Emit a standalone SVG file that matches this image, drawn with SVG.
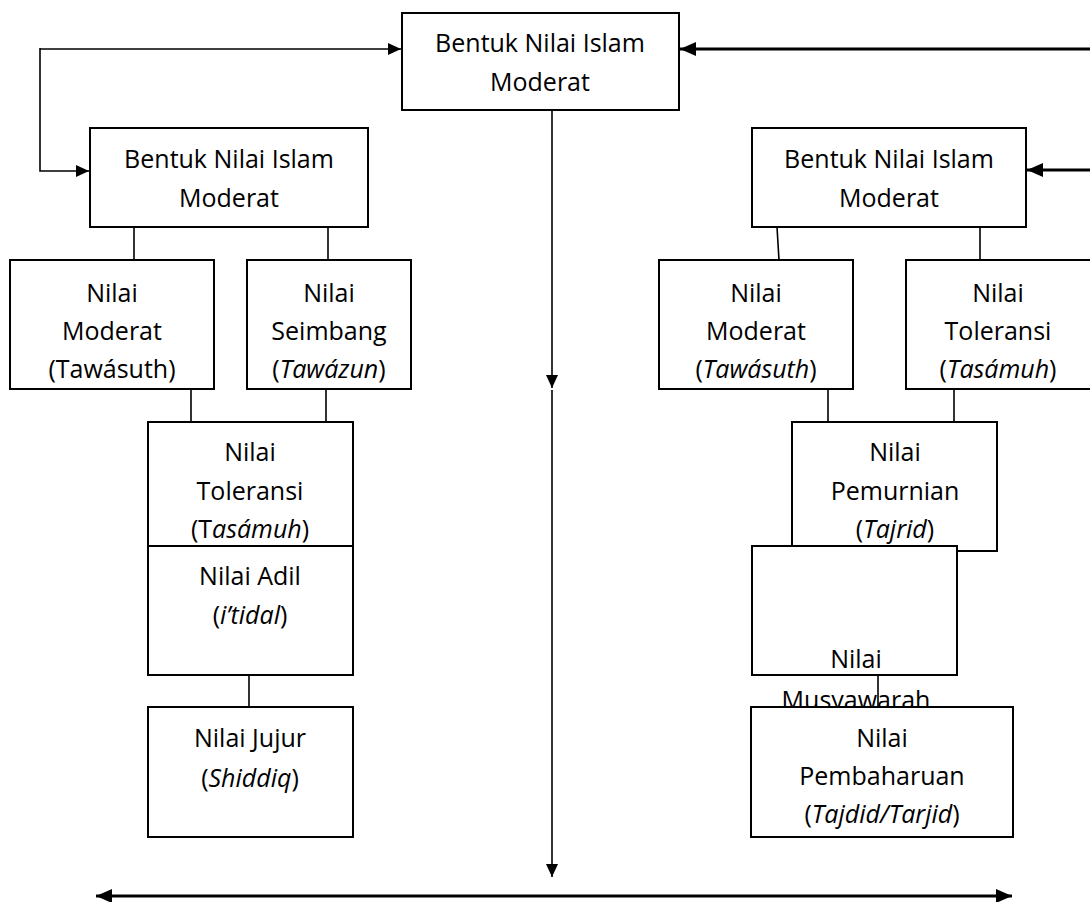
<svg xmlns="http://www.w3.org/2000/svg" width="1090" height="902" viewBox="0 0 1090 902">
<style>
.box{fill:#fff;stroke:#000;stroke-width:2}
.t{font-family:"Open Sans","Noto Sans",sans-serif;font-size:25px;fill:#000;text-anchor:middle}
.i{font-style:italic}
.c{fill:none;stroke:#000;stroke-width:1.6}
.k{fill:none;stroke:#000;stroke-width:3.2}
</style>
<defs>
<marker id="a" markerUnits="userSpaceOnUse" markerWidth="13" markerHeight="12" refX="13" refY="6" orient="auto"><path d="M0,0 L13,6 L0,12 z" fill="#000"/></marker>
<marker id="b" markerUnits="userSpaceOnUse" markerWidth="16" markerHeight="14" refX="16" refY="7" orient="auto-start-reverse"><path d="M0,0 L16,7 L0,14 z" fill="#000"/></marker>
</defs>
<rect width="1090" height="902" fill="#fff"/>
<g id="n-top"><rect class="box" x="402" y="13" width="277" height="97"/><text class="t" x="540" y="52">Bentuk Nilai Islam</text><text class="t" x="540" y="91">Moderat</text></g>
<g id="n-l2"><rect class="box" x="90" y="128" width="278" height="99"/><text class="t" x="229" y="168">Bentuk Nilai Islam</text><text class="t" x="229" y="207">Moderat</text></g>
<g id="n-r2"><rect class="box" x="752" y="128" width="274" height="99"/><text class="t" x="889" y="168">Bentuk Nilai Islam</text><text class="t" x="889" y="207">Moderat</text></g>
<g id="n-lmod"><rect class="box" x="10" y="260" width="204" height="129"/><text class="t" x="112" y="302">Nilai</text><text class="t" x="112" y="340">Moderat</text><text class="t" x="112" y="378">(Tawásuth)</text></g>
<g id="n-lseim"><rect class="box" x="247" y="260" width="164" height="129"/><text class="t" x="329" y="302">Nilai</text><text class="t" x="329" y="340">Seimbang</text><text class="t" x="329" y="378">(<tspan class="i">Tawázun</tspan>)</text></g>
<g id="n-rmod"><rect class="box" x="659" y="260" width="194" height="129"/><text class="t" x="756" y="302">Nilai</text><text class="t" x="756" y="340">Moderat</text><text class="t" x="756" y="378">(<tspan class="i">Tawásuth</tspan>)</text></g>
<g id="n-rtol"><rect class="box" x="906" y="260" width="190" height="129"/><text class="t" x="998" y="302">Nilai</text><text class="t" x="998" y="340">Toleransi</text><text class="t" x="998" y="378">(<tspan class="i">Tasámuh</tspan>)</text></g>
<g id="n-ltol"><rect class="box" x="148" y="422" width="205" height="124"/><text class="t" x="250" y="461">Nilai</text><text class="t" x="250" y="500">Toleransi</text><text class="t" x="250" y="538">(T<tspan class="i">asámuh</tspan>)</text></g>
<g id="n-adil"><rect class="box" x="148" y="546" width="205" height="129"/><text class="t" x="250" y="585">Nilai Adil</text><text class="t" x="250" y="624">(<tspan class="i">i’tidal</tspan>)</text></g>
<g id="n-jujur"><rect class="box" x="148" y="707" width="205" height="130"/><text class="t" x="250" y="747">Nilai Jujur</text><text class="t" x="250" y="787">(<tspan class="i">Shiddiq</tspan>)</text></g>
<g id="n-pemurnian"><rect class="box" x="792" y="422" width="205" height="129"/><text class="t" x="895" y="461">Nilai</text><text class="t" x="895" y="500">Pemurnian</text><text class="t" x="895" y="538">(<tspan class="i">Tajrid</tspan>)</text></g>
<g id="n-musyawarah"><rect class="box" x="752" y="546" width="205" height="129"/><text class="t" x="856" y="668">Nilai</text><text class="t" x="856" y="709">Musyawarah</text></g>
<g id="n-pembaharuan"><rect class="box" x="751" y="707" width="262" height="130"/><text class="t" x="882" y="747">Nilai</text><text class="t" x="882" y="785">Pembaharuan</text><text class="t" x="882" y="823">(<tspan class="i">Tajdid/Tarjid</tspan>)</text></g>
<g id="connectors">
<path class="c" d="M40,49 H401" marker-end="url(#a)"/>
<path class="c" d="M40,48 V171 H89" marker-end="url(#a)"/>
<path class="k" d="M1090,49 H680" marker-end="url(#b)"/>
<path class="k" d="M1090,170 H1027" marker-end="url(#b)"/>
<path class="c" d="M552,110 V388" marker-end="url(#a)"/>
<path class="c" d="M552,390 V877" marker-end="url(#a)"/>
<path class="k" d="M96,896 H1012" marker-start="url(#b)" marker-end="url(#b)"/>
<path class="c" d="M134,227 V260 M328,227 V260 M777,227 L779,260 M980,227 V260"/>
<path class="c" d="M191,389 V422 M326,389 V422 M828,389 V422 M954,389 V422"/>
<path class="c" d="M249,675 V707 M878,675 V707"/>
</g>
</svg>
